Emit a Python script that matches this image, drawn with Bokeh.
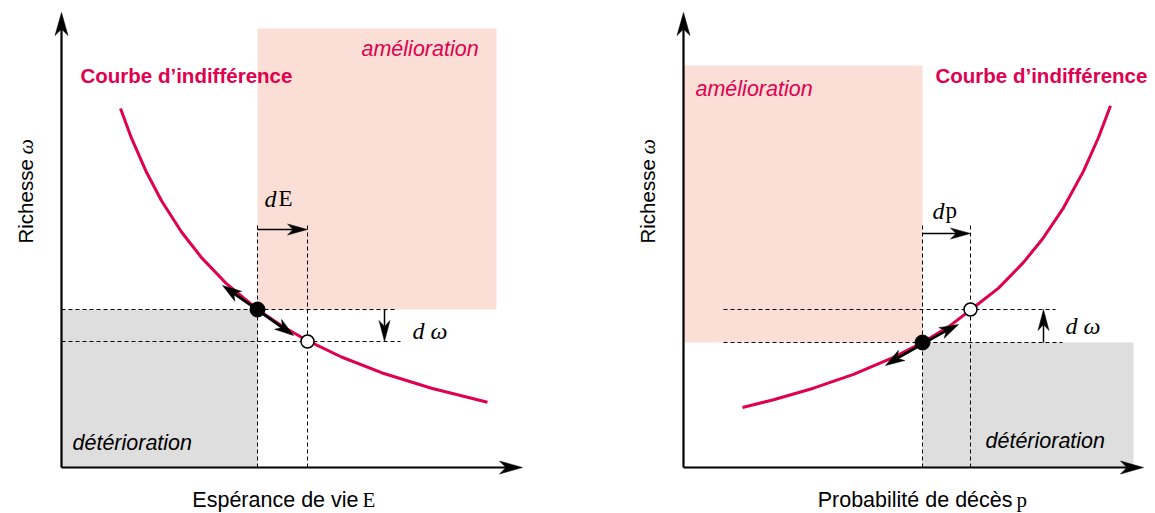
import math
from bokeh.plotting import figure
from bokeh.layouts import row
from bokeh.models import Range1d
from bokeh.core.properties import value
from bokeh.embed import file_html
from bokeh.resources import INLINE

CRIMSON = "#E0004F"
PINK = "#FBDFD7"
GREY = "#DEDEDE"
SANS = "Liberation Sans"
SERIF = "Liberation Serif"

# ---------------- data (abstract units, origin = axes corner) ----------------
# Left panel: life expectancy E vs wealth omega
E_curve = [59, 70, 85, 100, 120, 140, 165, 196, 220, 246, 280, 320, 370, 426]
W_curve_E = [359.0, 329.3, 295.2, 266.8, 235.5, 209.9, 183.8, 158.0, 141.7, 126.8, 110.5, 94.8, 79.2, 65.3]
E_points = [196, 246]          # E0 (black dot), E1 (white dot)
W_points_E = [158, 126]        # omega0, omega1
E_tangent_tips_x = [161, 232]
E_tangent_tips_y = [182, 132]
E_axis_max = [461, 455]        # x-axis end, y-axis end
E_improve_box = [435, 439]     # right, top of "amélioration" region

# Right panel: death probability p vs wealth omega
P_curve = [59, 90, 130, 170, 210, 239, 265, 287, 315, 340, 359, 380, 400, 415, 427]
W_curve_P = [60.0, 67.7, 79.3, 93.2, 110.2, 125.0, 140.6, 157.5, 179.4, 205.1, 228.5, 259.7, 296.4, 330.0, 361.7]
P_points = [239, 287]
W_points_P = [125, 158]
P_tangent_tips_x = [202, 275]
P_tangent_tips_y = [102, 143]
P_axis_max = [460, 455]
P_improve_box = [0, 402]       # left, top of "amélioration" region
P_deter_box_right = 450


def make_fig(width, x0, x1):
    p = figure(width=width, height=513, x_range=Range1d(x0, x1), y_range=Range1d(-46, 467),
               x_axis_location=None, y_axis_location=None, toolbar_location=None,
               output_backend="svg", min_border=0, outline_line_color=None)
    p.grid.visible = False
    p.background_fill_color = "white"
    p.border_fill_color = "white"
    return p


def head(p, xs, ys, xt, yt, L, W):
    d = math.hypot(xt - xs, yt - ys)
    ux, uy = (xt - xs) / d, (yt - ys) / d
    nx, ny = -uy, ux
    bx, by = xt - L * ux, yt - L * uy
    kx, ky = xt - 0.72 * L * ux, yt - 0.72 * L * uy
    p.patch([xt, bx + W / 2 * nx, kx, bx - W / 2 * nx],
            [yt, by + W / 2 * ny, ky, by - W / 2 * ny],
            fill_color="black", line_color="black", line_width=0.5)
    return kx, ky


def arrow(p, xs, ys, xt, yt, L=18, W=10, lw=1.5):
    kx, ky = head(p, xs, ys, xt, yt, L, W)
    p.segment(x0=[xs], y0=[ys], x1=[kx], y1=[ky], line_color="black", line_width=lw)


def double_arrow(p, xc, yc, tx, ty, L=19, W=12, lw=2.8):
    k1 = head(p, xc, yc, tx[0], ty[0], L, W)
    k2 = head(p, xc, yc, tx[1], ty[1], L, W)
    p.segment(x0=[k1[0]], y0=[k1[1]], x1=[k2[0]], y1=[k2[1]], line_color="black", line_width=lw)


def txt(p, x, y, s, font=SANS, size="20px", style="normal", color="black",
        align="left", baseline="middle", angle=0.0):
    p.text(x=[x], y=[y], text=[s], text_font=value(font), text_font_size=size,
           text_font_style=style, text_color=color, text_align=align,
           text_baseline=baseline, angle=angle)


DASH = "4 3"

# ================= LEFT PANEL =================
pl = make_fig(578, -61, 517)
E0, E1 = E_points
w0, w1 = W_points_E
pl.quad(left=[E0], right=[E_improve_box[0]], bottom=[w0], top=[E_improve_box[1]],
        fill_color=PINK, line_color=None)
pl.quad(left=[0], right=[E0], bottom=[0], top=[w0], fill_color=GREY, line_color=None)
# dashed guides
pl.segment(x0=[0, 0], y0=[w0, w1], x1=[336, 339], y1=[w0, w1],
           line_color="black", line_width=1, line_dash=DASH)
pl.segment(x0=[E0, E1], y0=[0, 0], x1=[E0, E1], y1=[245, 245],
           line_color="black", line_width=1, line_dash=DASH)
# indifference curve
pl.line(E_curve, W_curve_E, line_color=CRIMSON, line_width=3)
# tangent arrows
double_arrow(pl, E0, w0, E_tangent_tips_x, E_tangent_tips_y)
pl.scatter([E0], [w0], size=15, fill_color="black", line_color="black")
pl.scatter([E1], [w1], size=13, fill_color="white", line_color="black", line_width=1.5)
# dE and d omega arrows
arrow(pl, E0, 238, E1, 238, L=20, W=11)
arrow(pl, 323, w0, 323, w1, L=21, W=11)
# axes
arrow(pl, 0, 0, E_axis_max[0], 0, L=23, W=13, lw=2.2)
arrow(pl, 0, 0, 0, E_axis_max[1], L=23, W=13, lw=2.2)
# texts
txt(pl, 19, 392, "Courbe d\u2019indifférence", size="20.5px", style="bold", color=CRIMSON)
txt(pl, 300, 419, "amélioration", size="21.5px", style="italic", color=CRIMSON)
txt(pl, 11, 25, "détérioration", size="21.5px", style="italic")
txt(pl, 297, -32, "Espérance de vie", size="21.5px", align="right", baseline="alphabetic")
txt(pl, 301, -32, "E", font=SERIF, size="21px", baseline="alphabetic")
txt(pl, -36, 224, "Richesse", size="20.5px", baseline="alphabetic", angle=math.pi / 2)
txt(pl, -36, 313, "\u03c9", font=SERIF, size="22px", style="italic", baseline="alphabetic", angle=math.pi / 2)
txt(pl, 203, 269, "d", font=SERIF, size="24px", style="italic")
txt(pl, 217, 269, "E", font=SERIF, size="23px")
txt(pl, 351, 137, "d", font=SERIF, size="24px", style="italic")
txt(pl, 369, 137, "\u03c9", font=SERIF, size="24px", style="italic")

# ================= RIGHT PANEL =================
pr = make_fig(577, -105, 472)
p0, p1 = P_points
v0, v1 = W_points_P
pr.quad(left=[P_improve_box[0]], right=[p0], bottom=[v0], top=[P_improve_box[1]],
        fill_color=PINK, line_color=None)
pr.quad(left=[p0], right=[P_deter_box_right], bottom=[0], top=[v0],
        fill_color=GREY, line_color=None)
pr.segment(x0=[40, 40], y0=[v1, v0], x1=[372, 379], y1=[v1, v0],
           line_color="black", line_width=1, line_dash=DASH)
pr.segment(x0=[p0, p1], y0=[0, 0], x1=[p0, p1], y1=[245, 245],
           line_color="black", line_width=1, line_dash=DASH)
pr.line(P_curve, W_curve_P, line_color=CRIMSON, line_width=3)
double_arrow(pr, p0, v0, P_tangent_tips_x, P_tangent_tips_y)
pr.scatter([p0], [v0], size=15, fill_color="black", line_color="black")
pr.scatter([p1], [v1], size=13, fill_color="white", line_color="black", line_width=1.5)
arrow(pr, p0, 234, p1, 234, L=20, W=11)
arrow(pr, 360, v0, 360, v1, L=21, W=11)
arrow(pr, 0, 0, P_axis_max[0], 0, L=23, W=13, lw=2.2)
arrow(pr, 0, 0, 0, P_axis_max[1], L=23, W=13, lw=2.2)
txt(pr, 252, 392, "Courbe d\u2019indifférence", size="20.5px", style="bold", color=CRIMSON)
txt(pr, 12, 379, "amélioration", size="21.5px", style="italic", color=CRIMSON)
txt(pr, 302, 27, "détérioration", size="21.5px", style="italic")
txt(pr, 329, -32, "Probabilité de décès", size="21.5px", align="right", baseline="alphabetic")
txt(pr, 333, -32, "p", font=SERIF, size="21px", baseline="alphabetic")
txt(pr, -36, 224, "Richesse", size="20.5px", baseline="alphabetic", angle=math.pi / 2)
txt(pr, -36, 313, "\u03c9", font=SERIF, size="22px", style="italic", baseline="alphabetic", angle=math.pi / 2)
txt(pr, 249, 257, "d", font=SERIF, size="24px", style="italic")
txt(pr, 262, 257, "p", font=SERIF, size="23px")
txt(pr, 382, 142, "d", font=SERIF, size="24px", style="italic")
txt(pr, 400, 142, "\u03c9", font=SERIF, size="24px", style="italic")

layout = row(pl, pr)
open("out.html", "w").write(file_html(layout, INLINE))
